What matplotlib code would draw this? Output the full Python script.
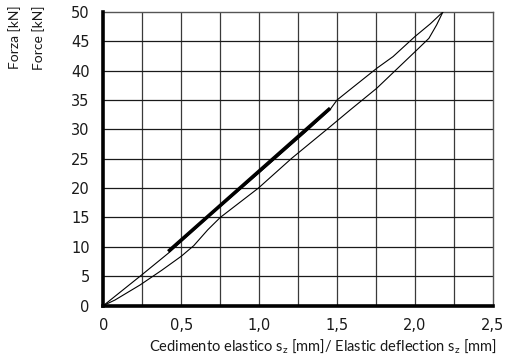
import numpy as np
import matplotlib
matplotlib.use("Agg")
import matplotlib.pyplot as plt

# Dane (ugięcie [mm], siła [kN])
# galaz obciazenia (gorna)
load_s = [0.0, 0.245, 0.416, 0.70, 1.00, 1.30, 1.456, 1.50, 1.58, 1.755, 1.86, 2.00, 2.10, 2.18]
load_f = [0.0, 5.2, 8.9, 15.7, 22.6, 29.6, 33.4, 35.0, 36.7, 40.4, 42.4, 45.8, 48.0, 50.0]

# galaz odciazenia (dolna)
unload_s = [2.18, 2.14, 2.09, 2.00, 1.755, 1.584, 1.444, 1.21, 0.995, 0.75, 0.67, 0.58, 0.50, 0.374, 0.235, 0.074, 0.0]
unload_f = [50.0, 47.8, 45.5, 43.2, 37.0, 33.3, 30.2, 25.1, 20.0, 15.0, 12.9, 10.2, 8.4, 6.0, 3.5, 0.94, 0.0]

# odcinek pogrubiony (sztywnosc)
thick_s = [0.416, 1.456]
thick_f = [9.2, 33.6]

x_ticks = [0, 0.5, 1.0, 1.5, 2.0, 2.5]
x_ticklabels = ['0', '0,5', '1,0', '1,5', '2,0', '2,5']
y_ticks = [0, 5, 10, 15, 20, 25, 30, 35, 40, 45, 50]

plt.rcParams['font.family'] = ['Lato', 'DejaVu Sans']

fig = plt.figure(figsize=(5.09, 3.58), dpi=100)
ax = fig.add_axes([0.2033, 0.1466, 0.7647, 0.82])

# siatka
for gx in np.arange(0.25, 2.5, 0.25):
    ax.axvline(x=gx, color='#3a3a3a', linestyle='-', linewidth=0.9, zorder=1)
for gy in range(5, 50, 5):
    ax.axhline(y=gy, color='#1a1a1a', linestyle='-', linewidth=0.9, zorder=1)

# krzywe
ax.plot(load_s, load_f, color='black', linewidth=0.8, zorder=3)
ax.plot(unload_s, unload_f, color='black', linewidth=0.8, zorder=3)
ax.plot(thick_s, thick_f, color='black', linewidth=2.6, solid_capstyle='butt', zorder=4)

ax.set_xlim(0, 2.5)
ax.set_ylim(0, 50)
ax.set_xticks(x_ticks)
ax.set_xticklabels(x_ticklabels)
ax.set_yticks(y_ticks)
ax.tick_params(length=0, labelsize=10.5, pad=10, colors='#1a1a1a')
ax.tick_params(axis='x', pad=9)
for lab in ax.get_xticklabels() + ax.get_yticklabels():
    lab.set_fontfamily('DejaVu Sans')

for side in ['top', 'right']:
    ax.spines[side].set_color('#555555')
    ax.spines[side].set_linewidth(1.0)
for side in ['left', 'bottom']:
    ax.spines[side].set_color('black')
    ax.spines[side].set_linewidth(2.6)
    ax.spines[side].set_zorder(5)

# opisy osi
fig.text(15 / 509, 1 - 5 / 358, 'Forza [kN]', rotation=90, ha='center', va='top', fontsize=10, color='#1a1a1a')
fig.text(38.5 / 509, 1 - 5 / 358, 'Force [kN]', rotation=90, ha='center', va='top', fontsize=10, color='#1a1a1a')
fig.text(497 / 509, 1 - 347 / 358, 'Cedimento elastico s$_\\mathregular{z}$ [mm]/ Elastic deflection s$_\\mathregular{z}$ [mm]',
         ha='right', va='center', fontsize=10.5, color='#1a1a1a')

fig.savefig('out.png', dpi=100)
